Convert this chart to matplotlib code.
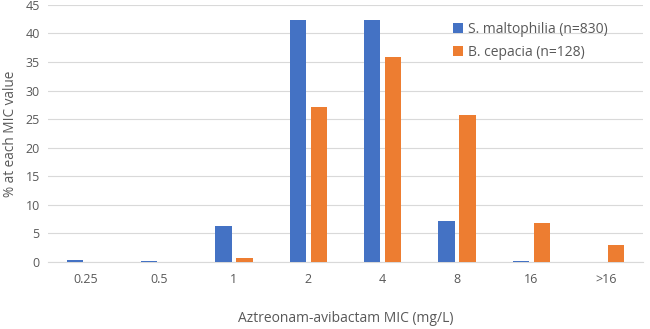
import numpy as np
import matplotlib
matplotlib.use('Agg')
from matplotlib import pyplot as plt

# MIC 값과 각 균주별 비율(%)
mic_labels = ['0.25', '0.5', '1', '2', '4', '8', '16', '>16']
steno = [0.4, 0.2, 6.3, 42.3, 42.3, 7.2, 0.2, 0.0]
burk = [0.0, 0.0, 0.6, 27.2, 35.8, 25.7, 6.8, 3.0]

plt.rcParams['font.family'] = ['Open Sans', 'DejaVu Sans']
txt = '#595959'

fig = plt.figure(figsize=(6.5, 3.29), dpi=100)
ax = fig.add_axes([0.074, 0.204, 0.915, 0.781])

x = np.arange(len(mic_labels))
w = 0.22
ax.bar(x - w/2 - 0.03, steno, w, color='#4472C4', label='S. maltophilia (n=830)', zorder=3)
ax.bar(x + w/2 + 0.03, burk, w, color='#ED7D31', label='B. cepacia (n=128)', zorder=3)

ax.set_xlim(-0.5, len(mic_labels) - 0.5)
ax.set_ylim(0, 45)
ax.set_yticks(range(0, 46, 5))
ax.set_xticks(x)
ax.set_xticklabels(mic_labels)
ax.grid(axis='y', color='#d9d9d9', linewidth=0.8, zorder=0)
for s in ['top', 'right', 'left']:
    ax.spines[s].set_visible(False)
ax.spines['bottom'].set_color('#d9d9d9')
ax.tick_params(length=0, labelsize=9, colors=txt, pad=8)
ax.tick_params(axis='y', pad=6)

ax.set_xlabel('Aztreonam-avibactam MIC (mg/L)', fontsize=10, color=txt, labelpad=18)
ax.set_ylabel('% at each MIC value', fontsize=9.8, color=txt, labelpad=5)

leg = ax.legend(loc='upper left', bbox_to_anchor=(0.672, 0.955), borderaxespad=0,
                frameon=False, fontsize=10,
                handlelength=0.7, handleheight=0.7, handletextpad=0.35, labelspacing=0.55)
for t in leg.get_texts():
    t.set_color(txt)

fig.savefig('out.png', dpi=100)
